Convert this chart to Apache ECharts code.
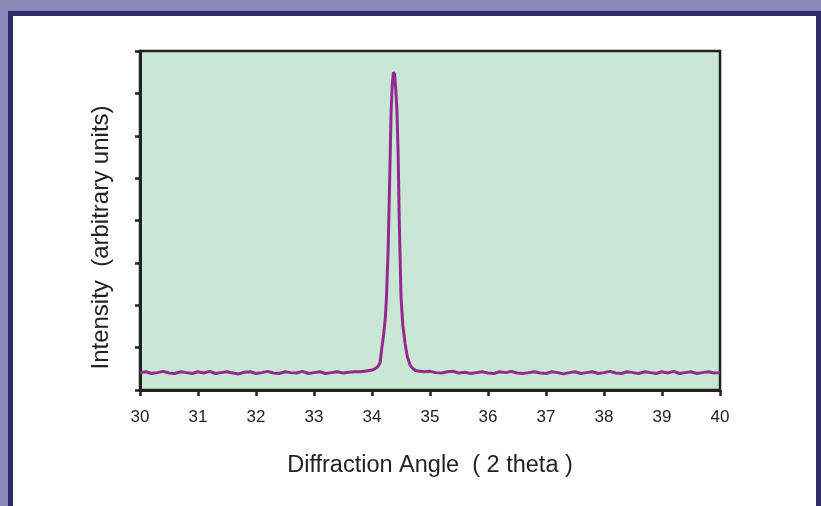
<!DOCTYPE html>
<html>
<head>
<meta charset="utf-8">
<script src="https://cdn.jsdelivr.net/npm/echarts@6/dist/echarts.min.js"></script>
<style>
  html, body { margin: 0; padding: 0; }
  #chart { width: 821px; height: 506px; }
</style>
</head>
<body>
<div id="chart"></div>
<script>
var chartDom = document.getElementById("chart");
var myChart = echarts.init(chartDom);
var option;

// 2 theta values (degrees)
const angles = [
  30.0, 30.1, 30.2, 30.3, 30.4, 30.5, 30.6, 30.7, 30.8, 30.9,
  31.0, 31.1, 31.2, 31.3, 31.4, 31.5, 31.6, 31.7, 31.8, 31.9,
  32.0, 32.1, 32.2, 32.3, 32.4, 32.5, 32.6, 32.7, 32.8, 32.9,
  33.0, 33.1, 33.2, 33.3, 33.4, 33.5, 33.6, 33.7, 33.8, 33.9, 34.0,
  34.05, 34.10, 34.14, 34.17, 34.20, 34.23, 34.25, 34.28, 34.31, 34.33,
  34.35, 34.37, 34.39, 34.41, 34.43, 34.45, 34.47, 34.50, 34.53, 34.57,
  34.61, 34.66, 34.71, 34.75,
  34.8, 34.9, 35.0, 35.1, 35.2, 35.3, 35.4, 35.5, 35.6, 35.7,
  35.8, 35.9, 36.0, 36.1, 36.2, 36.3, 36.4, 36.5, 36.6, 36.7,
  36.8, 36.9, 37.0, 37.1, 37.2, 37.3, 37.4, 37.5, 37.6, 37.7,
  37.8, 37.9, 38.0, 38.1, 38.2, 38.3, 38.4, 38.5, 38.6, 38.7,
  38.8, 38.9, 39.0, 39.1, 39.2, 39.3, 39.4, 39.5, 39.6, 39.7,
  39.8, 39.9, 40.0
];

// intensity (arbitrary units)
const intensity = [
  0.41, 0.43, 0.39, 0.41, 0.44, 0.40, 0.39, 0.43, 0.41, 0.39,
  0.43, 0.40, 0.44, 0.39, 0.41, 0.43, 0.40, 0.38, 0.42, 0.43,
  0.39, 0.41, 0.44, 0.40, 0.39, 0.43, 0.41, 0.40, 0.44, 0.39,
  0.41, 0.43, 0.39, 0.41, 0.43, 0.40, 0.42, 0.43, 0.43, 0.45, 0.47,
  0.50, 0.55, 0.65, 1.0, 1.3, 1.7, 2.2, 3.4, 5.3, 6.6,
  7.2, 7.5, 7.45, 7.1, 6.6, 5.6, 4.0, 2.2, 1.55, 1.1,
  0.78, 0.58, 0.50, 0.46,
  0.45, 0.43, 0.44, 0.41, 0.40, 0.43, 0.44, 0.40, 0.42, 0.39,
  0.41, 0.43, 0.40, 0.39, 0.43, 0.41, 0.44, 0.40, 0.39, 0.41,
  0.43, 0.40, 0.39, 0.43, 0.41, 0.38, 0.41, 0.43, 0.39, 0.41,
  0.43, 0.39, 0.41, 0.44, 0.40, 0.39, 0.43, 0.41, 0.39, 0.43,
  0.41, 0.39, 0.43, 0.40, 0.44, 0.39, 0.41, 0.43, 0.39, 0.41,
  0.43, 0.40, 0.41
];

const xTitle = "Diffraction Angle  ( 2 theta )";
const yTitle = "Intensity  (arbitrary units)";

const points = angles.map(function (a, i) {
  return [a, intensity[i]];
});

const axisColor = "#222";
const font = "Arial, 'Liberation Sans', Helvetica, sans-serif";

option = {
  backgroundColor: "#8a89b8",
  graphic: [
    {
      type: "rect",
      z: -10,
      shape: { x: 10.5, y: 13.5, width: 808, height: 520 },
      style: { fill: "#ffffff", stroke: "#2f2b69", lineWidth: 5 },
    },
  ],
  grid: {
    left: 140,
    top: 51,
    right: 101,
    bottom: 116,
    show: true,
    backgroundColor: "#cae7d6",
    borderColor: axisColor,
    borderWidth: 2.5,
  },
  xAxis: {
    type: "value",
    min: 30,
    max: 40,
    interval: 1,
    name: xTitle,
    nameLocation: "middle",
    nameGap: 64,
    nameTextStyle: { fontFamily: font, fontSize: 23.5, color: "#222" },
    axisLine: { show: true, lineStyle: { color: axisColor, width: 3 } },
    axisTick: { show: true, length: 6, lineStyle: { color: axisColor, width: 2.5 } },
    axisLabel: { margin: 19, fontFamily: font, fontSize: 17, color: "#222" },
    splitLine: { show: false },
  },
  yAxis: {
    type: "value",
    min: 0,
    max: 8,
    interval: 1,
    name: yTitle,
    nameLocation: "middle",
    nameGap: 27,
    nameTextStyle: { fontFamily: font, fontSize: 24, color: "#222", padding: [0, 34, 0, 0] },
    axisLine: { show: true, lineStyle: { color: axisColor, width: 3 } },
    axisTick: { show: true, length: 5, lineStyle: { color: axisColor, width: 2.5 } },
    axisLabel: { show: false },
    splitLine: { show: false },
  },
  series: [
    {
      type: "line",
      data: points,
      showSymbol: false,
      smooth: false,
      lineStyle: { color: "#932a8f", width: 3 },
      animation: false,
    },
  ],
};

option && myChart.setOption(option);
</script>
</body>
</html>
